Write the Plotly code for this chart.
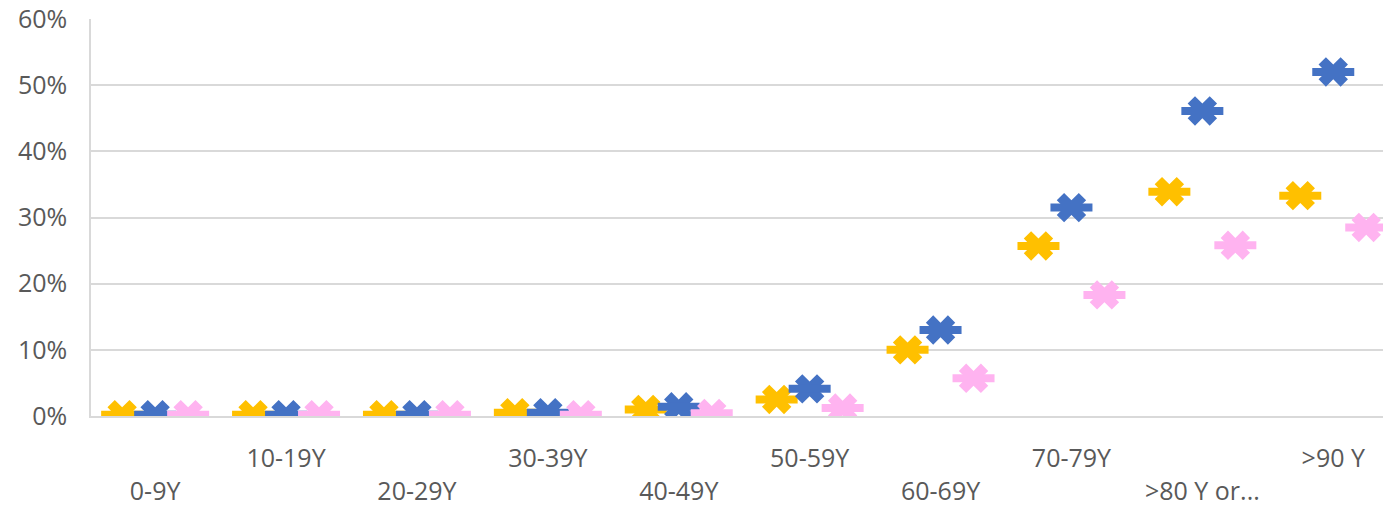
import plotly.graph_objects as go

# age groups and the three series (share, %)
categories = ["0-9Y", "10-19Y", "20-29Y", "30-39Y", "40-49Y",
              "50-59Y", "60-69Y", "70-79Y", ">80 Y or...", ">90 Y"]
gold_vals = [0.2, 0.2, 0.2, 0.5, 1.0, 2.5, 10.0, 25.7, 33.9, 33.3]
blue_vals = [0.2, 0.2, 0.2, 0.5, 1.4, 4.1, 13.0, 31.5, 46.1, 52.0]
pink_vals = [0.2, 0.2, 0.2, 0.2, 0.4, 1.2, 5.7, 18.3, 25.8, 28.5]
y_ticks = [0, 10, 20, 30, 40, 50, 60]

series = [
    ("gold", gold_vals, "#FFC000"),
    ("blue", blue_vals, "#4472C4"),
    ("pink", pink_vals, "#FFB3F0"),
]

# staggered tick labels: even ones drop one line
tick_text = [("<br>" + c) if i % 2 == 0 else c for i, c in enumerate(categories)]

fig = go.Figure()
for name, vals, color in series:
    # asterisk = thick X + short horizontal bar
    fig.add_trace(go.Scatter(
        x=categories, y=vals, mode="markers", name=name,
        offsetgroup=name,
        marker=dict(symbol="x", size=26, color=color, line=dict(width=0)),
        hoverinfo="skip", showlegend=False,
    ))
    fig.add_trace(go.Scatter(
        x=categories, y=vals, mode="markers", name=name,
        offsetgroup=name,
        marker=dict(symbol="line-ew-open", size=30, color=color,
                    line=dict(width=8, color=color)),
        showlegend=False,
    ))

fig.update_layout(
    width=1383, height=508,
    margin=dict(l=91, r=0, t=19, b=92),
    paper_bgcolor="white", plot_bgcolor="white",
    scattermode="group", scattergap=0.244,
    font=dict(family="Open Sans", size=25, color="#595959"),
    showlegend=False,
)
fig.update_xaxes(
    type="category", range=[-0.49, 9.38], automargin=False,
    tickvals=categories, ticktext=tick_text,
    showgrid=False, showline=True, linecolor="#d9d9d9", linewidth=2,
    ticks="outside", ticklen=19, tickcolor="rgba(0,0,0,0)",
    tickangle=0,
)
fig.update_yaxes(
    range=[0, 60], automargin=False,
    tickvals=y_ticks, ticktext=[f"{v}%" for v in y_ticks],
    showgrid=True, gridcolor="#d9d9d9", gridwidth=1.5,
    showline=True, linecolor="#d9d9d9", linewidth=1.5,
    ticks="outside", ticklen=17, tickcolor="rgba(0,0,0,0)",
    zeroline=False,
)

# drop the default page margin so the figure sits at the window corner
fig.write_html("out.html", config={"displayModeBar": False},
               post_script="document.body.style.margin='0';")
